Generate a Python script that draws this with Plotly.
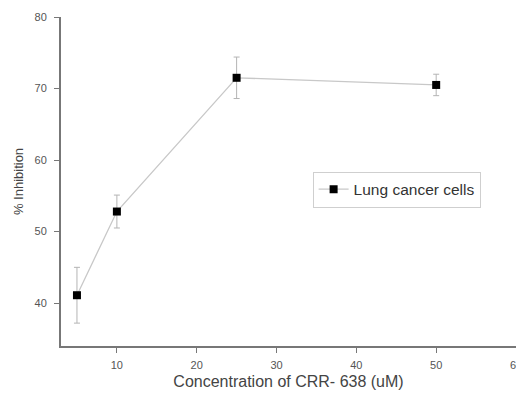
import plotly.graph_objects as go

concentration = [5, 10, 25, 50]
inhibition = [41.1, 52.8, 71.5, 70.5]
error = [3.9, 2.3, 2.9, 1.5]
series_name = "Lung cancer cells"

fig = go.Figure()
fig.add_trace(go.Scatter(
    x=concentration, y=inhibition, name=series_name,
    mode="lines+markers",
    line=dict(color="#c8c8c8", width=1.3),
    marker=dict(symbol="square", size=8, color="black"),
    error_y=dict(type="data", array=error, visible=True, color="#b4b4b4", thickness=1, width=3),
))

# page body has an 8px default margin, so the figure is 8px smaller
fig.update_layout(
    width=516, height=385,
    margin=dict(l=53, r=8, t=9, b=47),
    plot_bgcolor="white", paper_bgcolor="white",
    font=dict(family="Liberation Sans, Arial", size=11, color="#555"),
    showlegend=True,
    legend=dict(x=0.553, y=0.53, xanchor="left", yanchor="top",
                bordercolor="#cfcfcf", borderwidth=1, bgcolor="white",
                font=dict(size=15.5, color="#333"),
                tracegroupgap=0),
    xaxis=dict(range=[3, 60], tickvals=[10, 20, 30, 40, 50, 60],
               showline=True, linecolor="#777", linewidth=2,
               ticks="outside", ticklen=5, tickcolor="#777", tickwidth=1,
               tickfont=dict(color="#555", size=11),
               ticklabeloverflow="allow",
               showgrid=False, zeroline=False, automargin=False,
               ticklabelstandoff=3,
               title=dict(text="Concentration of CRR- 638 (uM)", standoff=6,
                          font=dict(size=16, color="#444"))),
    yaxis=dict(range=[34, 80], tickvals=[40, 50, 60, 70, 80],
               showline=True, linecolor="#777", linewidth=2,
               ticks="outside", ticklen=5, tickcolor="#777", tickwidth=1,
               tickfont=dict(color="#555", size=11),
               showgrid=False, zeroline=False, automargin=False,
               ticklabelstandoff=5,
               title=dict(text="% Inhibition", standoff=8,
                          font=dict(size=13, color="#444"))),
)

fig.write_html("out.html")
